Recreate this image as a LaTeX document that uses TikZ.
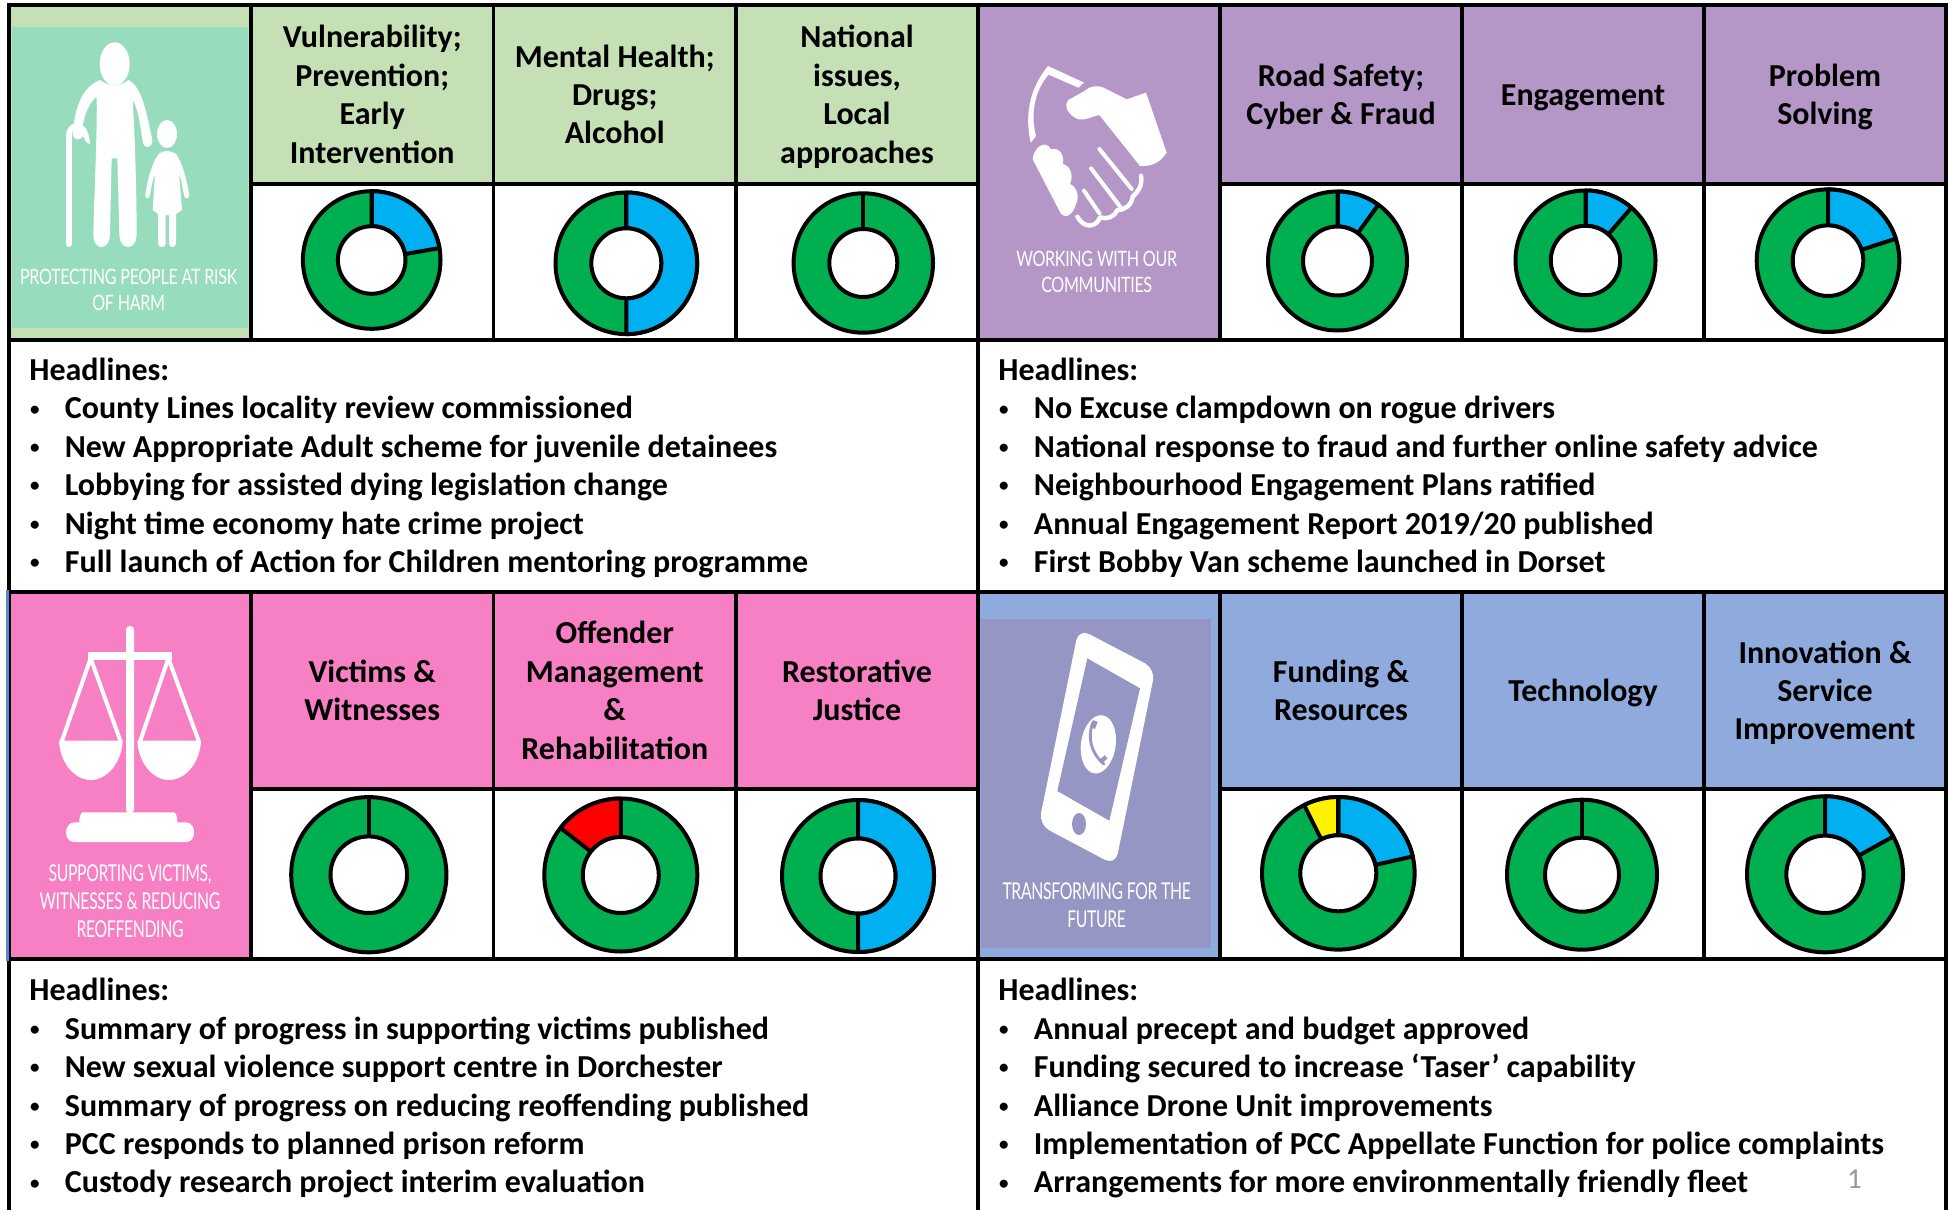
\documentclass[tikz,border=0pt]{standalone}
\usepackage{fontspec}
\setmainfont{Carlito}
\newfontfamily\iconfont[FakeStretch=0.76,LetterSpace=-1.5]{Lato}
\newfontfamily\iconfontb[FakeStretch=0.68,LetterSpace=-1.5]{Lato}
\definecolor{hgreen}{HTML}{C5E0B4}
\definecolor{hpurple}{HTML}{B597C7}
\definecolor{hpink}{HTML}{F77FC3}
\definecolor{hblue}{HTML}{8FAADC}
\definecolor{iconteal}{HTML}{97DCBC}
\definecolor{iconblue}{HTML}{9696C4}
\definecolor{rgreen}{HTML}{00B050}
\definecolor{rblue}{HTML}{00B0F0}
\definecolor{edgeblue}{HTML}{5B86D0}
\definecolor{pagegrey}{HTML}{989898}
\newcommand{\hlitem}[1]{\makebox[17.75pt][l]{\hspace{0.4pt}\raisebox{1.9pt}{\fontsize{9.5}{9.5}\selectfont\textbullet}}#1}
\newcommand{\headtext}[1]{\rule{0pt}{16.85pt}#1\rule[-5.76pt]{0pt}{5.76pt}}
% centre x, centre y, outer radius, inner radius, segments colour/from/to
\newcommand{\donut}[5]{%
  \begin{scope}[shift={(#1,#2)},x=0.5pt,y=0.5pt]
    \draw[ring,fill=rgreen] (0,0) circle (#3);
    \foreach \c/\a/\b in {#5}{
      \draw[ring,fill=\c] (\a:#3) arc (\a:\b:#3) -- (\b:#4) arc (\b:\a:#4) -- cycle;
    }
    \draw[ring,fill=white] (0,0) circle (#4);
    \draw[ring] (90:#3) -- (90:#4);
  \end{scope}}
\tikzset{
  x=0.5pt,y=-0.5pt,
  cell/.style={draw=black,line width=1.75pt,inner sep=0pt,align=center},
  size/.style 2 args={minimum width=#1*0.5pt,minimum height=#2*0.5pt},
  headcell/.style={cell,font=\bfseries\fontsize{16}{19.2}\selectfont},
  ring/.style={draw=black,line width=2pt,line join=round},
  body/.style={inner sep=0pt,align=left,anchor=north west,font=\bfseries\fontsize{16}{19.2}\selectfont},
  icontext/.style={inner sep=0pt,align=center,text=white,font=\iconfont\fontsize{10.6}{13}\selectfont},
  icontextb/.style={inner sep=0pt,align=center,text=white,font=\iconfontb\fontsize{11.6}{14}\selectfont},
  glyph/.style={fill=white,draw=none},
  glyphline/.style={draw=white,line cap=round,line join=round},
  zoomA/.style={x=0.16667pt,y=-0.16667pt},
}
\begin{document}
\begin{tikzpicture}
\useasboundingbox (0,0) rectangle (1952,1209);
\clip (0,0) rectangle (1952,1209);
\fill[white] (0,0) rectangle (1952,1209);

% ---- panels with headlines
\node[cell,size={969}{252},fill=white] (panelA) at (493.5,466) {};
\node[cell,size={968}{252},fill=white] (panelB) at (1462,466) {};
\node[cell,size={969}{270},fill=white] (panelC) at (493.5,1094) {};
\node[cell,size={968}{270},fill=white] (panelD) at (1462,1094) {};

\node[body] (textA) at (29,357.7) {Headlines:\\
\hlitem{County Lines locality review commissioned}\\
\hlitem{New Appropriate Adult scheme for juvenile detainees}\\
\hlitem{Lobbying for assisted dying legislation change}\\
\hlitem{Night time economy hate crime project}\\
\hlitem{Full launch of Action for Children mentoring programme}};
\node[body] (textB) at (998,357.7) {Headlines:\\
\hlitem{No Excuse clampdown on rogue drivers}\\
\hlitem{National response to fraud and further online safety advice}\\
\hlitem{Neighbourhood Engagement Plans ratified}\\
\hlitem{Annual Engagement Report 2019/20 published}\\
\hlitem{First Bobby Van scheme launched in Dorset}};
\node[body] (textC) at (29,978) {Headlines:\\
\hlitem{Summary of progress in supporting victims published}\\
\hlitem{New sexual violence support centre in Dorchester}\\
\hlitem{Summary of progress on reducing reoffending published}\\
\hlitem{PCC responds to planned prison reform}\\
\hlitem{Custody research project interim evaluation}};
\node[body] (textD) at (998,978) {Headlines:\\
\hlitem{Annual precept and budget approved}\\
\hlitem{Funding secured to increase ‘Taser’ capability}\\
\hlitem{Alliance Drone Unit improvements}\\
\hlitem{Implementation of PCC Appellate Function for police complaints}\\
\hlitem{Arrangements for more environmentally friendly fleet}};
\node[anchor=base,inner sep=0pt,text=pagegrey,font=\fontsize{14.5}{17}\selectfont] (pagenum) at (1854.5,1188) {1};

% ---- icon cells
\node[cell,size={242}{335},fill=hgreen] (iconA) at (130,172.5) {};
\node[cell,size={242}{335},fill=hpurple] (iconB) at (1099,172.5) {};
\node[cell,size={242}{367},fill=hpink] (iconC) at (130,775.5) {};
\node[cell,size={242}{367},fill=hblue] (iconD) at (1099,775.5) {};
\draw[edgeblue,line width=1.5pt] (iconC.north west) -- (iconC.south west);
\fill[iconteal] (12,27) rectangle (248,328);
\fill[iconblue] (981,619) rectangle (1211,948);

% ---- header cells, row one
\node[headcell,size={242.5}{179},fill=hgreen] (h11) at (372.25,94.5) {\headtext{Vulnerability;\\Prevention;\\Early\\Intervention}};
\node[headcell,size={242.5}{179},fill=hgreen] (h12) at (614.75,94.5) {\headtext{Mental Health;\\Drugs;\\Alcohol}};
\node[headcell,size={242}{179},fill=hgreen] (h13) at (857,94.5) {\headtext{National\\issues,\\Local\\approaches}};
\node[headcell,size={242}{179},fill=hpurple] (h14) at (1341,94.5) {\headtext{Road Safety;\\Cyber \& Fraud}};
\node[headcell,size={242}{179},fill=hpurple] (h15) at (1583,94.5) {\headtext{Engagement}};
\node[headcell,size={242}{179},fill=hpurple] (h16) at (1825,94.5) {\headtext{Problem\\Solving}};
% ---- donut cells, row one
\node[cell,size={242.5}{156},fill=white] (d11) at (372.25,262) {};
\node[cell,size={242.5}{156},fill=white] (d12) at (614.75,262) {};
\node[cell,size={242}{156},fill=white] (d13) at (857,262) {};
\node[cell,size={242}{156},fill=white] (d14) at (1341,262) {};
\node[cell,size={242}{156},fill=white] (d15) at (1583,262) {};
\node[cell,size={242}{156},fill=white] (d16) at (1825,262) {};
% ---- header cells, row two
\node[headcell,size={242.5}{197},fill=hpink] (h21) at (372.25,690.5) {\headtext{Victims \&\\Witnesses}};
\node[headcell,size={242.5}{197},fill=hpink] (h22) at (614.75,690.5) {\headtext{Offender\\Management\\\&\\Rehabilitation}};
\node[headcell,size={242}{197},fill=hpink] (h23) at (857,690.5) {\headtext{Restorative\\Justice}};
\node[headcell,size={242}{197},fill=hblue] (h24) at (1341,690.5) {\headtext{Funding \&\\Resources}};
\node[headcell,size={242}{197},fill=hblue] (h25) at (1583,690.5) {\headtext{Technology}};
\node[headcell,size={242}{197},fill=hblue] (h26) at (1825,690.5) {\headtext{Innovation \&\\Service\\Improvement}};
% ---- donut cells, row two
\node[cell,size={242.5}{170},fill=white] (d21) at (372.25,874) {};
\node[cell,size={242.5}{170},fill=white] (d22) at (614.75,874) {};
\node[cell,size={242}{170},fill=white] (d23) at (857,874) {};
\node[cell,size={242}{170},fill=white] (d24) at (1341,874) {};
\node[cell,size={242}{170},fill=white] (d25) at (1583,874) {};
\node[cell,size={242}{170},fill=white] (d26) at (1825,874) {};

% ---- donuts
\donut{371.7}{260}{68.8}{33.8}{rblue/90/10}
\donut{626.3}{263.3}{70.8}{35}{rblue/90/-90}
\donut{863.3}{263}{69.7}{34}{}
\donut{1337.5}{261}{69.5}{34.5}{rblue/90/54}
\donut{1585.5}{260.5}{70}{34.7}{rblue/90/49}
\donut{1828}{260.7}{71.3}{35.3}{rblue/90/18}
\donut{368.8}{874.7}{77.6}{38.3}{}
\donut{620.8}{875}{76.5}{38}{red/90/142}
\donut{858}{876}{76}{37.5}{rblue/90/-90}
\donut{1338.3}{873.3}{76.3}{38}{rblue/90/12.8,yellow/90/116.6}
\donut{1582}{874.7}{75}{37}{}
\donut{1825}{874.3}{78}{38.7}{rblue/90/29}

% ---- people icon
\begin{scope}[zoomA]
  \fill[glyph] (344,192) ellipse (45 and 65);
  \fill[glyph] (300,240) .. controls (330,262) and (360,262) .. (385,240)
    .. controls (425,260) and (438,330) .. (457,420)
    .. controls (458,445) and (432,450) .. (428,425)
    .. controls (420,370) and (412,320) .. (398,300)
    .. controls (405,400) and (410,600) .. (410,700)
    .. controls (410,755) and (358,755) .. (358,700)
    -- (352,475) -- (335,475) -- (330,700)
    .. controls (330,755) and (278,755) .. (280,700)
    .. controls (282,600) and (292,400) .. (290,290)
    .. controls (265,310) and (255,345) .. (248,375)
    .. controls (262,385) and (270,410) .. (270,432)
    .. controls (255,430) and (255,415) .. (248,408)
    .. controls (245,420) and (225,425) .. (218,405)
    .. controls (222,350) and (235,265) .. (300,240) -- cycle;
  \draw[glyphline,line width=2.8pt] (207,733) -- (207,405) .. controls (207,390) and (215,382) .. (226,378);
  \fill[glyph] (501,402) ellipse (30 and 42);
  \fill[glyph] (476,462) .. controls (490,450) and (512,450) .. (528,462)
    .. controls (548,490) and (560,540) .. (568,585)
    .. controls (568,598) and (552,598) .. (552,585)
    .. controls (548,565) and (545,540) .. (537,520)
    -- (546,630) -- (528,642) -- (528,730) .. controls (528,745) and (507,745) .. (507,730)
    -- (507,645) -- (497,645) -- (497,730) .. controls (497,745) and (474,745) .. (474,730)
    -- (474,642) -- (458,630) -- (465,520)
    .. controls (458,540) and (453,565) .. (450,585)
    .. controls (448,598) and (434,598) .. (436,585)
    .. controls (442,540) and (455,490) .. (476,462) -- cycle;
\end{scope}
\node[icontext] (labelA) at (128.7,289.5) {PROTECTING PEOPLE AT RISK\\OF HARM};

% ---- handshake icon
\begin{scope}[shift={(970,0)},zoomA]
  \fill[glyph] (182,428) .. controls (165,350) and (175,270) .. (234,198)
    -- (342,248) -- (325,263) -- (236,224)
    .. controls (195,270) and (180,340) .. (198,408) -- cycle;
  \fill[glyph] (528,278) -- (590,458) .. controls (570,490) and (540,500) .. (510,498)
    -- (388,345) .. controls (365,350) and (345,362) .. (325,358)
    .. controls (295,345) and (280,320) .. (295,300)
    -- (345,272) .. controls (365,255) and (390,255) .. (410,268) -- (470,298) -- cycle;
  \fill[glyph] (188,478) .. controls (190,445) and (225,415) .. (243,448)
    .. controls (270,440) and (285,470) .. (278,492)
    .. controls (300,495) and (312,525) .. (300,552)
    .. controls (320,560) and (330,590) .. (318,612)
    .. controls (310,640) and (290,660) .. (272,640) -- cycle;
  \draw[glyphline,line width=2pt] (388,447) -- (485,567);
  \draw[glyphline,line width=2pt] (363,505) -- (452,622);
  \draw[glyphline,line width=2pt] (342,572) -- (388,640);
  \draw[glyphline,line width=2.2pt] (513,527) .. controls (518,555) and (505,575) .. (488,590)
    .. controls (485,615) and (465,630) .. (442,630)
    .. controls (435,650) and (410,660) .. (390,652)
    .. controls (380,680) and (345,690) .. (322,650);
\end{scope}
\node[icontext] (labelB) at (1096.7,272.3) {WORKING WITH OUR\\COMMUNITIES};

% ---- scales icon
\begin{scope}[shift={(0,590)},zoomA]
  \fill[glyph,rounded corners=1.8pt] (378,670) -- (378,108) -- (402,108) -- (402,670) -- cycle;
  \fill[glyph] (263,187) rectangle (517,211);
  \draw[glyphline,line width=2pt] (272,205) -- (185,455) (272,205) -- (362,455)
                                  (505,205) -- (420,455) (505,205) -- (597,455);
  \fill[glyph] (177,452) -- (368,452) .. controls (365,520) and (320,570) .. (272,570)
    .. controls (225,570) and (180,520) .. (177,452) -- cycle;
  \fill[glyph] (412,452) -- (603,452) .. controls (600,520) and (555,570) .. (507,570)
    .. controls (460,570) and (415,520) .. (412,452) -- cycle;
  \fill[glyph] (247,667) -- (523,667) .. controls (530,672) and (532,685) .. (532,697)
    -- (560,697) .. controls (590,700) and (590,755) .. (560,756) -- (222,756)
    .. controls (190,755) and (190,700) .. (222,697) -- (238,697)
    .. controls (238,685) and (240,672) .. (247,667) -- cycle;
\end{scope}
\node[icontextb] (labelC) at (130,901.5) {SUPPORTING VICTIMS,\\WITNESSES \& REDUCING\\REOFFENDING};

% ---- phone icon
\begin{scope}[shift={(970,590)},zoomA]
  \fill[glyph,rounded corners=6pt] (326,116) -- (556,236) -- (436,826) -- (206,704) -- cycle;
  \fill[iconblue] (352,205) -- (510,295) -- (418,692) -- (262,603) -- cycle;
  \fill[iconblue] (327,702) ellipse (21 and 33);
  \fill[glyph,rotate around={-8:(385,463)}] (385,463) ellipse (52 and 88);
  \draw[iconblue,line width=1.4pt,line cap=round] (368,398) .. controls (352,440) and (362,490) .. (402,522);
  \fill[iconblue,rotate around={-20:(372,402)}] (365,392) rectangle (380,415);
  \fill[iconblue,rotate around={40:(398,510)}] (388,503) rectangle (412,516);
\end{scope}
\node[icontextb] (labelD) at (1096.7,905) {TRANSFORMING FOR THE\\FUTURE};
\end{tikzpicture}
\end{document}
